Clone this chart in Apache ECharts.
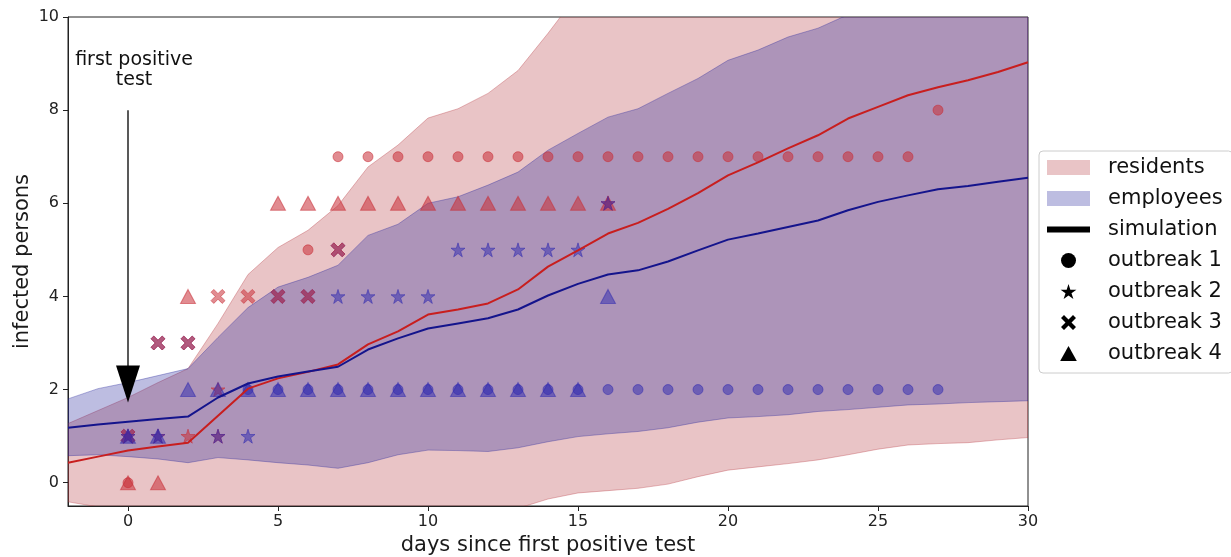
<!DOCTYPE html>
<html>
<head>
<meta charset="utf-8">
<script src="https://cdn.jsdelivr.net/npm/echarts@6/dist/echarts.min.js"></script>
<style>html,body{margin:0;padding:0;background:#fff;}#chart{width:1231px;height:557px;}</style>
</head>
<body>
<div id="chart"></div>
<script>
// ---- data ----
const days = [-2,-1,0,1,2,3,4,5,6,7,8,9,10,11,12,13,14,15,16,17,18,19,20,21,22,23,24,25,26,27,28,29,30];
const residentsSim = [0.43,0.56,0.69,0.78,0.86,1.44,2.02,2.24,2.38,2.54,2.97,3.25,3.61,3.72,3.85,4.15,4.64,4.99,5.35,5.58,5.88,6.22,6.60,6.88,7.18,7.46,7.82,8.07,8.32,8.49,8.64,8.82,9.03];
const employeesSim = [1.18,1.25,1.31,1.37,1.42,1.83,2.13,2.28,2.39,2.49,2.86,3.10,3.31,3.42,3.53,3.72,4.02,4.27,4.47,4.56,4.75,4.99,5.22,5.35,5.49,5.63,5.85,6.03,6.17,6.30,6.37,6.46,6.55];
const residentsHi = [1.27,1.55,1.83,2.15,2.45,3.42,4.47,5.05,5.42,5.95,6.78,7.25,7.83,8.03,8.36,8.85,9.65,10.5,11.0,11.4,11.8,12.2,12.6,13.0,13.3,13.6,13.9,14.2,14.5,14.8,15.0,15.3,15.6];
const residentsLo = [-0.41,-0.52,-0.58,-0.62,-0.65,-0.70,-0.72,-0.75,-0.78,-0.80,-0.80,-0.78,-0.75,-0.72,-0.66,-0.55,-0.35,-0.22,-0.17,-0.12,-0.03,0.13,0.27,0.34,0.41,0.49,0.60,0.72,0.81,0.84,0.86,0.92,0.97];
const employeesHi = [1.80,2.02,2.15,2.30,2.45,3.12,3.76,4.20,4.41,4.67,5.31,5.55,6.00,6.14,6.39,6.67,7.14,7.50,7.85,8.03,8.36,8.68,9.07,9.29,9.57,9.76,10.05,10.35,10.6,10.85,11.1,11.3,11.5];
const employeesLo = [0.58,0.60,0.56,0.51,0.43,0.54,0.49,0.43,0.38,0.31,0.43,0.60,0.70,0.69,0.67,0.75,0.88,0.99,1.05,1.10,1.18,1.30,1.39,1.42,1.46,1.53,1.57,1.62,1.67,1.69,1.72,1.74,1.76];

// observed outbreaks [day, infected]
const resOutbreak1 = [[0,0],[6,5],[7,7],[8,7],[9,7],[10,7],[11,7],[12,7],[13,7],[14,7],[15,7],[16,7],[17,7],[18,7],[19,7],[20,7],[21,7],[22,7],[23,7],[24,7],[25,7],[26,7],[27,8]];
const resOutbreak2 = [[0,1],[1,1],[2,1],[3,1],[3,2],[16,6]];
const resOutbreak3 = [[0,1],[1,3],[2,3],[3,4],[4,4],[5,4],[6,4],[7,5]];
const resOutbreak4 = [[0,0],[1,0],[2,4],[5,6],[6,6],[7,6],[8,6],[9,6],[10,6],[11,6],[12,6],[13,6],[14,6],[15,6],[16,6]];
const empOutbreak1 = [[4,2],[5,2],[6,2],[7,2],[8,2],[9,2],[10,2],[11,2],[12,2],[13,2],[14,2],[15,2],[16,2],[17,2],[18,2],[19,2],[20,2],[21,2],[22,2],[23,2],[24,2],[25,2],[26,2],[27,2]];
const empOutbreak2 = [[0,1],[1,1],[3,1],[4,1],[7,4],[8,4],[9,4],[10,4],[11,5],[12,5],[13,5],[14,5],[15,5],[16,6]];
const empOutbreak3 = [[0,1],[1,3],[2,3],[5,4],[6,4],[7,5]];
const empOutbreak4 = [[0,1],[1,1],[2,2],[3,2],[4,2],[5,2],[6,2],[7,2],[8,2],[9,2],[10,2],[11,2],[12,2],[13,2],[14,2],[15,2],[16,4]];

const xTicks = [0,5,10,15,20,25,30];
const yTicks = [0,2,4,6,8,10];
const arrowTail = [[0,8.0],[0,2.3]];
const arrowTip = [[0,1.72]];
const annotationPos = [[0.2,8.86]];
const annotationText = 'first positive\ntest';

// ---- styles ----
const FONT = 'DejaVu Sans';
const resFill = 'rgba(182,58,65,0.3)', resEdge = 'rgba(182,58,65,0.35)';
const empFill = 'rgba(38,38,155,0.3)', empEdge = 'rgba(38,38,155,0.35)';
const resMarker = 'rgba(200,45,55,0.55)';
const empMarker = 'rgba(45,40,175,0.5)';
const STAR = 'path://M50,0 L61.17,34.63 L97.55,34.55 L68.07,55.87 L79.39,90.45 L50,69 L20.61,90.45 L31.93,55.87 L2.45,34.55 L38.83,34.63 Z';
const CROSS = 'path://M0,2 L2,0 L5,3 L8,0 L10,2 L7,5 L10,8 L8,10 L5,7 L2,10 L0,8 L3,5 Z';
const TRI = 'path://M50,0 L100,90 L0,90 Z';

function band(lo, hi, fill, edge) {
  return function (params, api) {
    if (params.dataIndex !== 0) return null;
    const pts = [];
    for (let i = 0; i < days.length; i++) pts.push(api.coord([days[i], hi[i]]));
    for (let i = days.length - 1; i >= 0; i--) pts.push(api.coord([days[i], lo[i]]));
    return {type: 'polygon', shape: {points: pts}, style: {fill: fill, stroke: edge, lineWidth: 1}};
  };
}
function markers(name, data, symbol, size, color, z) {
  return {type: 'scatter', name: name, data: data, symbol: symbol, symbolSize: size, z: z,
    itemStyle: {color: color, borderColor: color, borderWidth: 1, opacity: 1}, silent: true};
}

const chart = echarts.init(document.getElementById('chart'), null, {renderer: 'canvas'});
chart.setOption({
  animation: false,
  backgroundColor: '#fff',
  textStyle: {fontFamily: FONT},
  grid: {left: 68, right: 203, top: 17, bottom: 51, outerBoundsMode: 'none', containLabel: false,
    show: true, borderColor: '#222', borderWidth: 1, backgroundColor: 'transparent'},
  xAxis: {
    type: 'value', min: -2, max: 30,
    name: 'days since first positive test', nameLocation: 'middle', nameGap: 29,
    nameTextStyle: {fontSize: 21, color: '#1a1a1a', fontFamily: FONT},
    axisLine: {onZero: false, lineStyle: {color: '#222', width: 1}},
    axisTick: {show: true, length: 5, customValues: xTicks, lineStyle: {color: '#222'}},
    axisLabel: {customValues: xTicks, fontSize: 16, color: '#222', margin: 8, fontFamily: FONT},
    splitLine: {show: false}
  },
  yAxis: {
    type: 'value', min: -0.5, max: 10,
    name: 'infected persons', nameLocation: 'middle', nameGap: 35, nameMoveOverlap: false,
    nameTextStyle: {fontSize: 21, color: '#1a1a1a', fontFamily: FONT},
    axisLine: {show: true, onZero: false, lineStyle: {color: '#222', width: 1}},
    axisTick: {show: true, length: 5, customValues: yTicks, lineStyle: {color: '#222'}},
    axisLabel: {customValues: yTicks, fontSize: 16, color: '#222', margin: 9, fontFamily: FONT},
    splitLine: {show: false}
  },
  legend: {
    orient: 'vertical', left: 1039, top: 151,
    itemWidth: 43, itemHeight: 15, itemGap: 10,
    padding: [6, 10, 9, 8],
    backgroundColor: '#fff', borderColor: '#ccc', borderWidth: 1, borderRadius: 4,
    textStyle: {fontSize: 21, color: '#111', fontFamily: FONT, lineHeight: 21, padding: [0, 0, 0, 13]},
    selectedMode: false,
    data: [
      {name: 'residents', icon: 'rect', itemStyle: {color: resFill, borderWidth: 0}},
      {name: 'employees', icon: 'rect', itemStyle: {color: empFill, borderWidth: 0}},
      {name: 'simulation', icon: 'path://M0,0H43V6H0Z', itemStyle: {color: '#000', borderWidth: 0, opacity: 1}},
      {name: 'outbreak 1', icon: 'circle', itemStyle: {color: '#000', borderWidth: 0, opacity: 1}},
      {name: 'outbreak 2', icon: STAR, itemStyle: {color: '#000', borderWidth: 0, opacity: 1}},
      {name: 'outbreak 3', icon: CROSS, itemStyle: {color: '#000', borderWidth: 0, opacity: 1}},
      {name: 'outbreak 4', icon: TRI, itemStyle: {color: '#000', borderWidth: 0, opacity: 1}}
    ]
  },
  series: [
    {type: 'custom', name: 'residents', z: 1, clip: true, silent: true,
      data: days.map((d, i) => [d, residentsLo[i], residentsHi[i]]), encode: {x: 0, y: [1, 2]},
      renderItem: band(residentsLo, residentsHi, resFill, resEdge)},
    {type: 'custom', name: 'employees', z: 2, clip: true, silent: true,
      data: days.map((d, i) => [d, employeesLo[i], employeesHi[i]]), encode: {x: 0, y: [1, 2]},
      renderItem: band(employeesLo, employeesHi, empFill, empEdge)},

    markers('res o1', resOutbreak1, 'circle', 10, resMarker, 4),
    markers('res o4', resOutbreak4, 'triangle', [15, 14], resMarker, 4),
    markers('emp o3', empOutbreak3, CROSS, 14, empMarker, 4),
    markers('res o3', resOutbreak3, CROSS, 14, resMarker, 4.1),
    markers('res o2', resOutbreak2, STAR, 14, resMarker, 4),
    markers('emp o1', empOutbreak1, 'circle', 10, empMarker, 4.2),
    markers('emp o4', empOutbreak4, 'triangle', [15, 14], empMarker, 4.2),
    markers('emp o2', empOutbreak2, STAR, 14, empMarker, 4.2),

    {type: 'line', name: 'res sim', z: 5, data: days.map((d, i) => [d, residentsSim[i]]), symbol: 'none',
      lineStyle: {color: '#c81e1e', width: 2}, itemStyle: {color: '#c81e1e'}, silent: true},
    {type: 'line', name: 'emp sim', z: 5, data: days.map((d, i) => [d, employeesSim[i]]), symbol: 'none',
      lineStyle: {color: '#14148c', width: 2}, itemStyle: {color: '#14148c'}, silent: true},

    {type: 'line', name: 'arrow', z: 6, data: arrowTail, symbol: 'none',
      lineStyle: {color: '#222', width: 1.5}, silent: true},
    {type: 'scatter', name: 'arrowhead', z: 6, data: arrowTip, symbol: 'path://M0,0L24,0L12,37Z',
      symbolSize: [24, 37], symbolKeepAspect: false, symbolOffset: [0, -18.5],
      itemStyle: {color: '#000', opacity: 1}, silent: true},
    {type: 'scatter', name: 'annotation', z: 6, data: annotationPos, symbolSize: 1,
      itemStyle: {color: 'rgba(0,0,0,0)', opacity: 1}, silent: true,
      label: {show: true, position: 'inside', formatter: annotationText, fontSize: 19, lineHeight: 20,
        color: '#111', opacity: 1, textBorderWidth: 0, fontFamily: FONT, align: 'center', verticalAlign: 'middle'}},

    {type: 'scatter', name: 'simulation', data: []},
    {type: 'scatter', name: 'outbreak 1', data: []},
    {type: 'scatter', name: 'outbreak 2', data: []},
    {type: 'scatter', name: 'outbreak 3', data: []},
    {type: 'scatter', name: 'outbreak 4', data: []}
  ]
});
</script>
</body>
</html>
